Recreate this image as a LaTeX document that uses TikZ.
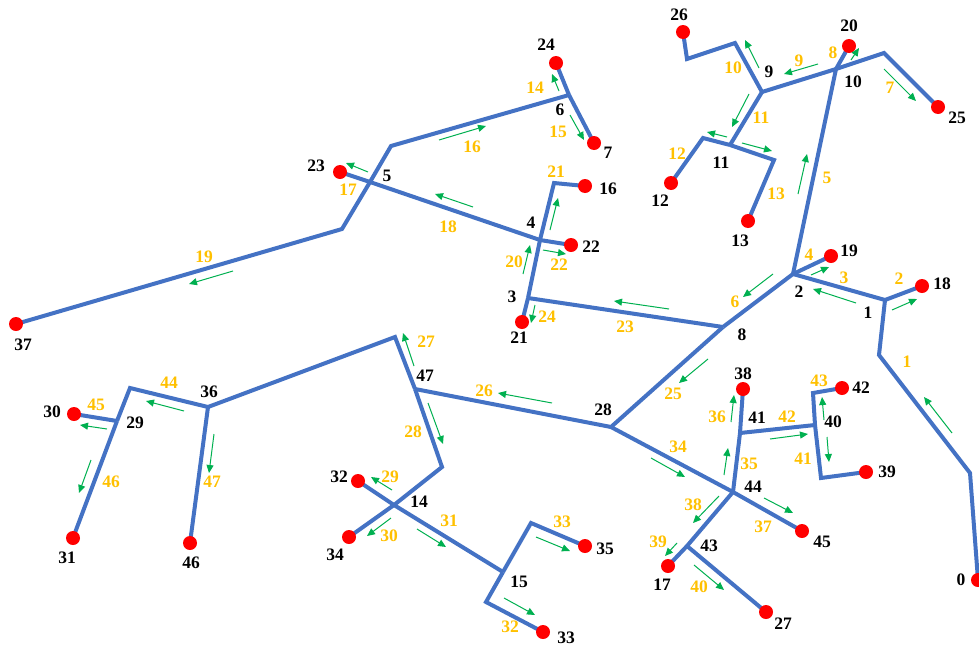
\documentclass[tikz,border=0pt]{standalone}
\usepackage{fontspec}
\setmainfont{Liberation Serif}
\usetikzlibrary{arrows.meta}
\definecolor{lineblue}{HTML}{4472C4}
\definecolor{flowgreen}{HTML}{00B050}
\definecolor{labyellow}{HTML}{FFC000}
\tikzset{
  wire/.style={draw=lineblue,line width=4pt,line join=miter,line cap=butt},
  flow/.style={draw=flowgreen,line width=1pt,-{Triangle[length=8pt,width=7pt]}},
  dot/.style={circle,fill=red,inner sep=0pt,minimum size=14pt},
  blab/.style={font=\fontsize{17.5}{17.5}\selectfont\bfseries,text=black,inner sep=0pt},
  ylab/.style={font=\fontsize{17.5}{17.5}\selectfont\bfseries,text=labyellow,inner sep=0pt}
}
\begin{document}
\begin{tikzpicture}[x=1pt,y=-1pt]
\useasboundingbox (0,0) rectangle (979,648);
\clip (0,0) rectangle (979,648);
% node positions
\foreach \n/\x/\y in {0/978/580,1/885/300,2/793/274,3/528/298,4/540/240,5/370/182,6/569/95,7/594/143,8/723/327,9/762/92,10/836/69,11/730/145,12/671/183,13/748/221,14/394/505,15/503/572,16/585/186,17/668/566,18/922/286,19/831/256,20/849/46,21/522/322,22/571/245,23/340/172,24/556/63,25/938/107,26/683/32,27/766/612,28/611/427,29/117/421,30/74/414,31/73/538,32/358/481,33/543/632,34/349/537,35/585/546,36/208/407,37/16/324,38/743/389,39/866/472,40/815/425,41/740/433,42/842/388,43/687/546,44/733/492,45/802/531,46/190/543,47/415/389}
  {\coordinate (p\n) at (\x,\y);}
% bends
\coordinate (b0a) at (970,473);
\coordinate (b0b) at (879,355);
\coordinate (b25) at (884,53);
\coordinate (b26a) at (735,43);
\coordinate (b26b) at (687,59);
\coordinate (b12) at (703,138);
\coordinate (b13) at (774,160);
\coordinate (b16) at (554,183);
\coordinate (b5) at (391,146);
\coordinate (b37) at (342,229);
\coordinate (b47) at (395,337);
\coordinate (b36) at (130,388);
\coordinate (b28) at (442,467);
\coordinate (b35) at (531,523);
\coordinate (b33) at (486,602);
\coordinate (b42) at (813,393);
\coordinate (b39) at (821,478);
% wires
\draw[wire] (p0) -- (b0a) -- (b0b) -- (p1);
\draw[wire] (p1) -- (p18);
\draw[wire] (p1) -- (p2);
\draw[wire] (p2) -- (p19);
\draw[wire] (p2) -- (p10);
\draw[wire] (p10) -- (p20);
\draw[wire] (p10) -- (b25) -- (p25);
\draw[wire] (p10) -- (p9);
\draw[wire] (p9) -- (b26a) -- (b26b) -- (p26);
\draw[wire] (p9) -- (p11);
\draw[wire] (p11) -- (b12) -- (p12);
\draw[wire] (p11) -- (b13) -- (p13);
\draw[wire] (p2) -- (p8);
\draw[wire] (p8) -- (p3);
\draw[wire] (p3) -- (p21);
\draw[wire] (p3) -- (p4) -- (b16) -- (p16);
\draw[wire] (p4) -- (p22);
\draw[wire] (p4) -- (p5) -- (p23);
\draw[wire] (p5) -- (b5) -- (p6);
\draw[wire] (p6) -- (p24);
\draw[wire] (p6) -- (p7);
\draw[wire] (p5) -- (b37) -- (p37);
\draw[wire] (p8) -- (p28);
\draw[wire] (p28) -- (p47);
\draw[wire] (p47) -- (b47) -- (p36);
\draw[wire] (p36) -- (p46);
\draw[wire] (p36) -- (b36) -- (p29);
\draw[wire] (p29) -- (p30);
\draw[wire] (p29) -- (p31);
\draw[wire] (p47) -- (b28) -- (p14) -- (p34);
\draw[wire] (p14) -- (p32);
\draw[wire] (p14) -- (p15);
\draw[wire] (p15) -- (b35) -- (p35);
\draw[wire] (p15) -- (b33) -- (p33);
\draw[wire] (p28) -- (p44);
\draw[wire] (p44) -- (p45);
\draw[wire] (p44) -- (p41) -- (p38);
\draw[wire] (p41) -- (p40);
\draw[wire] (p40) -- (b42) -- (p42);
\draw[wire] (p40) -- (b39) -- (p39);
\draw[wire] (p44) -- (p43) -- (p17);
\draw[wire] (p43) -- (p27);
% end dots
\foreach \n in {0,7,12,13,16,17,18,19,20,21,22,23,24,25,26,27,30,31,32,33,34,35,37,38,39,42,45,46}
  {\node[dot] (d\n) at (p\n) {};}
% flow arrows
\foreach \xa/\ya/\xb/\yb in {952/433/924/397,892/310/917/299,856/303/813/289,811/275/829/267,798/194/807/154,773/274/743/297,884/69/916/101,851/60/859/48,818/64/784/74,759/68/745/40,749/94/732/127,727/137/707/132,742/143/772/151,559/91/552/74,570/115/584/140,439/140/486/126,368/172/346/163,473/207/435/194,233/271/189/284,523/274/530/245,550/230/558/198,543/250/566/254,669/309/614/301,535/305/531/323,708/359/679/383,552/403/498/393,414/366/403/333,428/403/443/444,392/490/371/477,391/518/367/536,417/529/446/547,504/598/535/615,536/537/570/551,651/458/685/477,724/475/728/448,731/422/734/395,764/498/793/513,719/496/693/523,677/543/665/556,694/565/724/590,827/437/829/462,770/439/808/434,824/420/822/397,184/411/146/401,107/429/80/425,91/460/79/493,214/434/209/473}
  {\draw[flow] (\xa,\ya) -- (\xb,\yb);}
% branch numbers
\foreach \t/\x/\y in {1/907/362,2/899/279,3/844/278,4/809/255,5/827/178,6/735/302,7/890/88,8/833/53,9/799/61,10/733/68,11/761/118,12/677/154,13/776/194,14/535/88,15/558/132,16/472/147,17/348/190,18/448/227,19/204/257,20/514/262,21/556/172,22/559/265,23/625/327,24/547/317,25/673/394,26/484/391,27/426/342,28/413/432,29/390/477,30/389/536,31/449/521,32/510/627,33/562/522,34/678/447,35/749/464,36/717/417,37/763/527,38/693/505,39/658/542,40/699/587,41/803/459,42/787/417,43/819/381,44/169/383,45/96/405,46/111/482,47/212/482}
  {\node[ylab] (y\t) at (\x,\y) {\t};}
% bus numbers
\foreach \t/\x/\y in {0/961/580,1/868/313,2/799/292,3/512/297,4/531/223,5/387/176,6/560/110,7/608/153,8/742/335,9/769/72,10/853/82,11/721/163,12/660/201,13/740/241,14/419/502,15/519/582,16/608/189,17/662/585,18/942/284,19/849/251,20/849/26,21/519/338,22/591/247,23/316/166,24/546/45,25/957/118,26/679/15,27/783/624,28/603/410,29/135/423,30/52/412,31/67/558,32/339/477,33/566/638,34/335/555,35/605/549,36/209/392,37/23/345,38/743/374,39/887/472,40/833/422,41/757/418,42/861/388,43/709/546,44/753/487,45/822/542,46/191/563,47/425/376}
  {\node[blab] (k\t) at (\x,\y) {\t};}
\end{tikzpicture}
\end{document}
